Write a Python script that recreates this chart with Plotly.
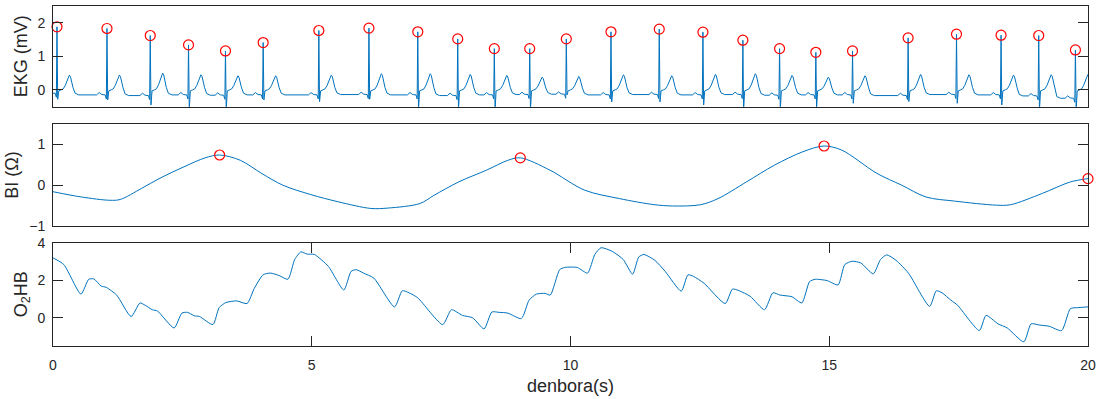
import plotly.graph_objects as go
from plotly.subplots import make_subplots

# ---------------- data ----------------
# EKG: per-beat values (R-peak time in s, R amplitude, S depth, T amplitude, baseline after beat)
r_times = [0.077, 1.043, 1.879, 2.619, 3.333, 4.061, 5.137, 6.105, 7.049, 7.821,
           8.528, 9.212, 9.919, 10.782, 11.715, 12.559, 13.331, 14.040, 14.741, 15.450,
           16.524, 17.459, 18.320, 19.048, 19.757]
r_amps = [1.88, 1.83, 1.62, 1.34, 1.16, 1.41, 1.77, 1.84, 1.73, 1.52,
          1.23, 1.23, 1.52, 1.73, 1.81, 1.72, 1.48, 1.23, 1.12, 1.16,
          1.55, 1.66, 1.63, 1.62, 1.19]
s_depths = [-0.28, -0.30, -0.45, -0.60, -0.60, -0.30, -0.35, -0.28, -0.60, -0.60,
            -0.60, -0.60, -0.15, -0.36, -0.36, -0.45, -0.60, -0.60, -0.55, -0.40,
            -0.35, -0.40, -0.45, -0.60, -0.60]
t_amps = [0.44, 0.44, 0.50, 0.45, 0.42, 0.42, 0.44, 0.48, 0.48, 0.46,
          0.43, 0.38, 0.40, 0.45, 0.42, 0.46, 0.48, 0.43, 0.38, 0.42,
          0.46, 0.45, 0.44, 0.45, 0.46]
baselines = [-0.15, -0.17, -0.15, -0.16, -0.15, -0.15, -0.14, -0.15, -0.17, -0.15,
             -0.14, -0.13, -0.15, -0.14, -0.15, -0.14, -0.16, -0.15, -0.15, -0.17,
             -0.14, -0.15, -0.18, -0.25, -0.20]
ekg_start = -0.10

# BI (bioimpedance) curve samples
bi_t = [0, 0.55, 1.10, 1.30, 1.71, 2.05, 2.53, 2.94, 3.22, 3.62, 4.03, 4.44, 4.98, 5.52,
        6.14, 6.48, 7.09, 7.36, 7.84, 8.38, 8.79, 9.03, 9.60, 10.27, 10.95, 11.63, 11.97,
        12.51, 12.85, 13.40, 13.94, 14.49, 14.90, 15.24, 15.92, 16.40, 16.87, 17.42,
        18.23, 18.50, 19.12, 19.66, 20.0]
bi_v = [-0.16, -0.29, -0.37, -0.35, -0.08, 0.16, 0.45, 0.67, 0.74, 0.61, 0.29, 0.0, -0.23,
        -0.41, -0.57, -0.56, -0.45, -0.25, 0.08, 0.37, 0.61, 0.67, 0.37, -0.12, -0.33,
        -0.48, -0.51, -0.48, -0.33, 0.08, 0.49, 0.82, 0.96, 0.86, 0.29, 0.0, -0.29, -0.39,
        -0.49, -0.48, -0.20, 0.08, 0.16]
bi_peak_t = [3.22, 9.03, 14.90, 20.0]
bi_peak_v = [0.74, 0.67, 0.96, 0.16]

# O2HB curve samples
o2_t = [0, 0.21, 0.54, 0.69, 0.79, 0.93, 1.03, 1.23, 1.51, 1.68, 1.78, 1.92, 2.02, 2.34,
        2.49, 2.60, 2.73, 2.83, 3.09, 3.21, 3.34, 3.55, 3.75, 3.89, 4.06, 4.20, 4.37, 4.54,
        4.67, 4.79, 4.91, 5.05, 5.32, 5.62, 5.76, 5.86, 6.00, 6.20, 6.60, 6.75, 6.88, 7.05,
        7.53, 7.70, 7.91, 8.11, 8.33, 8.48, 8.62, 8.79, 9.05, 9.20, 9.34, 9.51, 9.61,
        9.79, 9.89, 10.13, 10.33, 10.47, 10.59, 10.81, 11.02, 11.20, 11.32, 11.42, 11.63,
        11.83, 12.14, 12.27, 12.38, 12.58, 12.99, 13.13, 13.26, 13.47, 13.75, 13.91, 14.05,
        14.28, 14.47, 14.62, 14.73, 14.96, 15.17, 15.30, 15.44, 15.61, 15.85, 15.99, 16.11,
        16.29, 16.53, 16.94, 17.07, 17.18, 17.35, 17.48, 17.90, 18.03, 18.26, 18.44, 18.76,
        18.90, 19.05, 19.25, 19.49, 19.66, 19.80, 20.0]
o2_v = [3.19, 2.83, 1.26, 2.05, 2.07, 1.69, 1.62, 1.21, 0.07, 0.79, 0.67, 0.43, 0.36, -0.54,
        0.25, 0.29, 0.11, 0.07, -0.36, 0.54, 0.81, 0.90, 0.76, 1.57, 2.29, 2.38, 2.25, 2.05,
        3.10, 3.51, 3.39, 3.37, 2.74, 1.48, 2.47, 2.56, 2.38, 2.11, 0.58, 1.44, 1.33, 1.06,
        -0.36, 0.43, 0.13, 0.0, -0.59, 0.31, 0.29, 0.25, -0.04, 0.94, 1.26, 1.30, 1.21,
        2.56, 2.68, 2.68, 2.38, 3.37, 3.73, 3.53, 3.10, 2.32, 3.24, 3.37, 3.06,
        2.47, 1.42, 2.29, 2.20, 1.84, 0.76, 1.53, 1.44, 1.15, 0.43, 1.33, 1.21,
        1.12, 0.79, 1.93, 2.05, 1.98, 1.75, 2.83, 3.01, 2.92, 2.34, 3.10, 3.35,
        3.06, 2.38, 0.61, 1.44, 1.33, 0.94, 0.67, -0.68, 0.13, -0.32, -0.54, -1.28,
        -0.32, -0.38, -0.45, -0.68, 0.49, 0.54, 0.58]

x_ticks = [0, 5, 10, 15, 20]

# ---------------- build EKG trace from the per-beat values ----------------
# beat template: (time offset from R, kind, factor)
template = [(-0.20, "bp", 0.0), (-0.15, "bp", 0.07), (-0.10, "bp", 0.01),
            (-0.035, "bp", 0.0), (-0.012, "bp", -0.12),
            (0.0, "R", 0.0), (0.014, "S", 0.0), (0.035, "abs", -0.03),
            (0.08, "abs", 0.0), (0.12, "abs", 0.03), (0.16, "T", 0.3),
            (0.19, "T", 0.55), (0.215, "T", 0.85), (0.24, "T", 1.0),
            (0.26, "T", 0.9), (0.285, "T", 0.5), (0.31, "T", 0.15),
            (0.35, "b", 0.05), (0.42, "b", 0.0)]

ekg_t = [0.0]
ekg_v = [ekg_start]
for i in range(len(r_times)):
    tr = r_times[i]
    b_prev = baselines[i - 1] if i > 0 else ekg_start
    b = baselines[i]
    for dt, kind, f in template:
        tt = tr + dt
        if tt <= ekg_t[-1] or tt > 20:
            continue
        if kind == "bp":
            v = b_prev + f
        elif kind == "R":
            v = r_amps[i]
        elif kind == "S":
            v = s_depths[i]
        elif kind == "T":
            v = f * t_amps[i]
        elif kind == "b":
            v = b + f
        else:
            v = f
        ekg_t.append(round(tt, 4))
        ekg_v.append(v)

BLUE = "#0072BD"
AX = "#262626"

fig = make_subplots(rows=3, cols=1, shared_xaxes=False)

fig.add_trace(go.Scatter(x=ekg_t, y=ekg_v, mode="lines",
                         line=dict(color=BLUE, width=1), showlegend=False), row=1, col=1)
fig.add_trace(go.Scatter(x=r_times, y=r_amps, mode="markers",
                         marker=dict(symbol="circle-open", size=10, color="#FF0000",
                                     line=dict(width=1.2, color="#FF0000")),
                         showlegend=False, cliponaxis=False), row=1, col=1)

fig.add_trace(go.Scatter(x=bi_t, y=bi_v, mode="lines", line_shape="spline",
                         line=dict(color=BLUE, width=1, smoothing=0.9), showlegend=False), row=2, col=1)
fig.add_trace(go.Scatter(x=bi_peak_t, y=bi_peak_v, mode="markers",
                         marker=dict(symbol="circle-open", size=10, color="#FF0000",
                                     line=dict(width=1.2, color="#FF0000")),
                         showlegend=False, cliponaxis=False), row=2, col=1)

fig.add_trace(go.Scatter(x=o2_t, y=o2_v, mode="lines", line_shape="spline",
                         line=dict(color=BLUE, width=1, smoothing=0.6), showlegend=False), row=3, col=1)

FONT = "Liberation Sans, Arial, sans-serif"
tickfont = dict(family=FONT, size=14, color=AX)
titlefont = dict(family=FONT, size=18, color=AX)

domains = [[0.704, 1.0], [0.353, 0.653], [0.0, 0.304]]
yranges = [[-0.5, 2.5], [-1, 1.5], [-1.5, 4]]
ytitles = ["EKG (mV)", "BI (Ω)", "O<sub>2</sub>HB"]
ytickvals = [[0, 1, 2], [-1, 0, 1], [0, 2, 4]]

for i in range(3):
    r = i + 1
    fig.update_yaxes(row=r, col=1, domain=domains[i], range=yranges[i],
                     tickvals=ytickvals[i], ticks="inside", ticklen=10, tickcolor=AX,
                     showline=True, linecolor=AX, linewidth=1, mirror="ticks",
                     showgrid=False, zeroline=False, tickfont=tickfont,
                     title=dict(text=ytitles[i], font=titlefont, standoff=5),
                     ticklabelstandoff=4)
    is_bottom = (r == 3)
    fig.update_xaxes(row=r, col=1, range=[0, 20], tickvals=x_ticks,
                     ticks="inside" if is_bottom else "", ticklen=10, tickcolor=AX,
                     showticklabels=is_bottom,
                     showline=True, linecolor=AX, linewidth=1,
                     mirror="ticks" if is_bottom else True,
                     showgrid=False, zeroline=False, tickfont=tickfont,
                     ticklabelstandoff=6)

fig.update_xaxes(row=3, col=1, title=dict(text="denbora(s)", font=titlefont, standoff=7))

fig.update_layout(width=1102, height=399,
                  margin=dict(l=53, r=14, t=6, b=53, autoexpand=False),
                  paper_bgcolor="white", plot_bgcolor="white")

fig.write_html("out.html", config={"displayModeBar": False},
               post_script="document.body.style.margin='0px';")
